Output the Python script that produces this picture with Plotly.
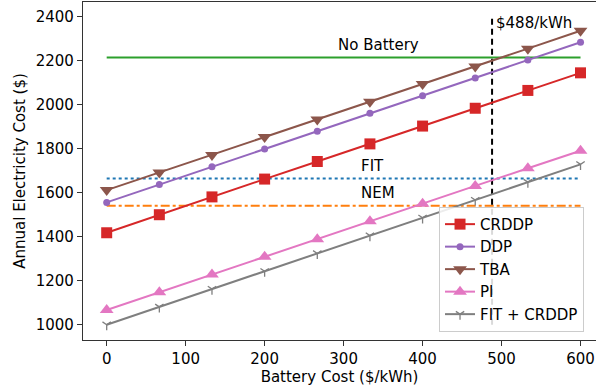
import plotly.graph_objects as go

battery_cost = [0, 66.67, 133.33, 200, 266.67, 333.33, 400, 466.67, 533.33, 600]
crddp = [1418, 1500, 1581, 1662, 1742, 1822, 1903, 1984, 2065, 2145]
ddp = [1556, 1637, 1718, 1799, 1880, 1961, 2041, 2122, 2203, 2284]
tba = [1612, 1692, 1772, 1853, 1933, 2013, 2094, 2174, 2255, 2336]
pi = [1067, 1148, 1228, 1309, 1389, 1470, 1550, 1631, 1711, 1791]
fit_crddp = [1000, 1081, 1162, 1243, 1324, 1405, 1486, 1567, 1648, 1729]
no_battery = 2215
fit = 1665
nem = 1541
breakeven = 488
breakeven_span = [1000, 2400]

FONT = "DejaVu Sans"
FS = 15
fig = go.Figure()

x_ends = [battery_cost[0], battery_cost[-1]]
fig.add_trace(go.Scatter(x=x_ends, y=[no_battery] * 2, mode="lines",
                         line=dict(color="#2ca02c", width=2), showlegend=False))
fig.add_trace(go.Scatter(x=x_ends, y=[fit] * 2, mode="lines",
                         line=dict(color="#1f77b4", width=2, dash="dot"), showlegend=False))
fig.add_trace(go.Scatter(x=x_ends, y=[nem] * 2, mode="lines",
                         line=dict(color="#ff7f0e", width=2, dash="dashdot"), showlegend=False))
fig.add_trace(go.Scatter(x=[breakeven, breakeven], y=breakeven_span, mode="lines",
                         line=dict(color="black", width=2, dash="6px,4px"), showlegend=False))

series = [
    ("CRDDP", crddp, "#d62728", "square", 11),
    ("DDP", ddp, "#9467bd", "circle", 7),
    ("TBA", tba, "#8c564b", "triangle-down", 12),
    ("PI", pi, "#e377c2", "triangle-up", 12),
]
for name, ys, col, sym, size in series:
    fig.add_trace(go.Scatter(x=battery_cost, y=ys, name=name, mode="lines+markers",
                             line=dict(color=col, width=2),
                             marker=dict(symbol=sym, size=size, color=col, line=dict(width=0))))
fig.add_trace(go.Scatter(x=battery_cost, y=fit_crddp, name="FIT + CRDDP", mode="lines+markers",
                         line=dict(color="#7f7f7f", width=2),
                         marker=dict(symbol="y-down", size=7, color="#7f7f7f",
                                     line=dict(width=1.3, color="#7f7f7f"))))

ann = [
    ("No Battery", 290, 2272),
    ("FIT", 319, 1723),
    ("NEM", 319, 1599),
    ("$488/kWh", 490, 2372),
]
for t, x, y in ann:
    fig.add_annotation(x=x, y=y, text=t, showarrow=False, xanchor="left", yanchor="middle",
                       font=dict(family=FONT, size=FS, color="black"))

axis_common = dict(showgrid=False, zeroline=False, showline=True, linecolor="#333333",
                   linewidth=1.2, ticks="outside", ticklen=5, tickwidth=1.2, tickcolor="#333333",
                   automargin=False,
                   tickfont=dict(family=FONT, size=FS, color="black"))
fig.update_xaxes(range=[-30, 619.6], tickvals=[0, 100, 200, 300, 400, 500, 600], mirror=True,
                 title=dict(text="Battery Cost ($/kWh)", font=dict(family=FONT, size=FS, color="black"),
                            standoff=4), **axis_common)
fig.update_yaxes(range=[930.5, 2467], tickvals=[1000, 1200, 1400, 1600, 1800, 2000, 2200, 2400],
                 mirror=False,
                 title=dict(text="Annual Electricity Cost ($)", font=dict(family=FONT, size=FS, color="black"),
                            standoff=6), **axis_common)

fig.update_layout(
    width=596, height=392,
    margin=dict(l=83, r=0, t=2, b=52),
    plot_bgcolor="white", paper_bgcolor="white",
    font=dict(family=FONT, size=FS, color="black"),
    legend=dict(x=0.694, y=0.024, xanchor="left", yanchor="bottom",
                bgcolor="rgba(255,255,255,0.85)", bordercolor="#cccccc", borderwidth=1,
                font=dict(family=FONT, size=FS, color="black"), tracegroupgap=0),
)

fig.write_html("out.html", config={"displayModeBar": False},
               post_script="document.body.style.margin='0';document.body.style.overflow='hidden';")
